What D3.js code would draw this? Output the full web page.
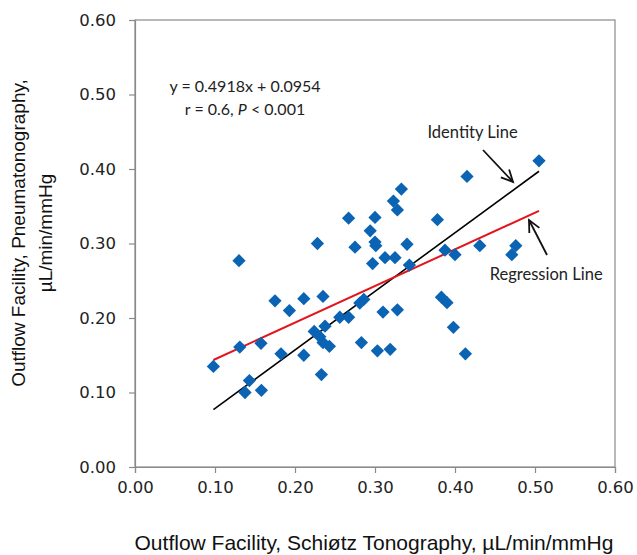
<!DOCTYPE html>
<html>
<head>
<meta charset="utf-8">
<script src="https://cdn.jsdelivr.net/npm/d3@7"></script>
<style>
  body { margin: 0; background: #fff; }
  .tick text { font-family: "DejaVu Sans", Verdana, sans-serif; font-size: 16.5px; fill: #222; }
  .note { font-family: Lato, "Open Sans", sans-serif; fill: #222; }
  .title { font-family: "Liberation Sans", Arial, sans-serif; font-size: 19px; fill: #111; }
</style>
</head>
<body>
<svg id="chart" width="637" height="555"></svg>
<script>
"use strict";

// Schiøtz tonography (x) vs pneumatonography (y), µL/min/mmHg
var schiotz = [0.098, 0.131, 0.130, 0.1375, 0.143, 0.158, 0.1575, 0.175, 0.1825, 0.193,
  0.211, 0.211, 0.224, 0.228, 0.231, 0.233, 0.235, 0.235, 0.2375, 0.243,
  0.256, 0.267, 0.267, 0.275, 0.281, 0.286, 0.283, 0.294, 0.297, 0.300,
  0.300, 0.301, 0.303, 0.310, 0.3125, 0.319, 0.323, 0.325, 0.328, 0.328,
  0.333, 0.340, 0.343, 0.378, 0.383, 0.3875, 0.390, 0.398, 0.400, 0.413,
  0.415, 0.431, 0.471, 0.476, 0.505];
var pneumato = [0.135, 0.161, 0.277, 0.100, 0.116, 0.103, 0.166, 0.223, 0.152, 0.210,
  0.226, 0.150, 0.182, 0.300, 0.175, 0.124, 0.229, 0.167, 0.189, 0.162,
  0.201, 0.201, 0.334, 0.295, 0.220, 0.225, 0.167, 0.317, 0.273, 0.335,
  0.302, 0.297, 0.156, 0.208, 0.281, 0.158, 0.357, 0.281, 0.345, 0.211,
  0.373, 0.299, 0.271, 0.332, 0.228, 0.291, 0.2205, 0.1875, 0.285, 0.152,
  0.390, 0.297, 0.285, 0.297, 0.411];

var xTicks = [0, 0.1, 0.2, 0.3, 0.4, 0.5, 0.6];
var yTicks = [0, 0.1, 0.2, 0.3, 0.4, 0.5, 0.6];

var slope = 0.4918;
var intercept = 0.0954;
var regressionX = [0.098, 0.505];
var identityLine = [[0.098, 0.077], [0.505, 0.397]];

var margin = { left: 135, top: 20, right: 22, bottom: 88 };
var width = 637 - margin.left - margin.right;
var height = 555 - margin.top - margin.bottom;

var svg = d3.select("#chart");
var g = svg.append("g")
  .attr("transform", "translate(" + margin.left + "," + margin.top + ")");

var x = d3.scaleLinear().domain([0, 0.6]).range([0, width]);
var y = d3.scaleLinear().domain([0, 0.6]).range([height, 0]);

// plot frame
g.append("rect")
  .attr("width", width).attr("height", height)
  .attr("fill", "none")
  .attr("stroke", "#8a8a8a")
  .attr("stroke-width", 1.2);

var xAxis = g.append("g")
  .attr("transform", "translate(0," + height + ")")
  .call(d3.axisBottom(x).tickValues(xTicks).tickFormat(d3.format(".2f")).tickSize(6).tickPadding(8));
var yAxis = g.append("g")
  .call(d3.axisLeft(y).tickValues(yTicks).tickFormat(d3.format(".2f")).tickSize(6).tickPadding(13));

[xAxis, yAxis].forEach(function(a) {
  a.select(".domain").attr("stroke", "#8a8a8a").attr("stroke-width", 1.2);
  a.selectAll(".tick line").attr("stroke", "#8a8a8a").attr("stroke-width", 1.2);
});

// identity line
g.append("line")
  .attr("x1", x(identityLine[0][0])).attr("y1", y(identityLine[0][1]))
  .attr("x2", x(identityLine[1][0])).attr("y2", y(identityLine[1][1]))
  .attr("stroke", "#000").attr("stroke-width", 1.6);

// regression line
g.append("line")
  .attr("x1", x(regressionX[0])).attr("y1", y(slope * regressionX[0] + intercept))
  .attr("x2", x(regressionX[1])).attr("y2", y(slope * regressionX[1] + intercept))
  .attr("stroke", "#e3141b").attr("stroke-width", 2);

// points
var diamond = d3.symbol().type(d3.symbolSquare).size(88);
g.selectAll(".pt")
  .data(schiotz)
  .enter()
  .append("path")
  .attr("class", "pt")
  .attr("d", diamond)
  .attr("fill", "#0b63b4")
  .attr("transform", function(d, i) {
    return "translate(" + x(d) + "," + y(pneumato[i]) + ") rotate(45)";
  });

// annotations
function arrow(from, to) {
  var x1 = x(from[0]), y1 = y(from[1]), x2 = x(to[0]), y2 = y(to[1]);
  var ang = Math.atan2(y2 - y1, x2 - x1);
  var len = 13, spread = 0.45;
  g.append("line")
    .attr("x1", x1).attr("y1", y1).attr("x2", x2).attr("y2", y2)
    .attr("stroke", "#111").attr("stroke-width", 1.8);
  var head = [
    [x2 - len * Math.cos(ang - spread), y2 - len * Math.sin(ang - spread)],
    [x2, y2],
    [x2 - len * Math.cos(ang + spread), y2 - len * Math.sin(ang + spread)]
  ];
  g.append("path")
    .attr("d", d3.line()(head))
    .attr("fill", "none")
    .attr("stroke", "#111").attr("stroke-width", 1.8);
}

arrow([0.435, 0.4255], [0.4725, 0.3826]);
arrow([0.515, 0.2846], [0.4925, 0.3315]);

g.append("text").attr("class", "note")
  .attr("x", x(0.422)).attr("y", y(0.4416))
  .attr("text-anchor", "middle")
  .style("font-size", "16.5px")
  .text("Identity Line");

g.append("text").attr("class", "note")
  .attr("x", x(0.514)).attr("y", y(0.251))
  .attr("text-anchor", "middle")
  .style("font-size", "16.5px")
  .text("Regression Line");

g.append("text").attr("class", "note")
  .attr("x", x(0.1375)).attr("y", y(0.503))
  .attr("text-anchor", "middle")
  .style("font-size", "16px")
  .text("y = 0.4918x + 0.0954");

var rLine = g.append("text").attr("class", "note")
  .attr("x", x(0.1375)).attr("y", y(0.4725))
  .attr("text-anchor", "middle")
  .style("font-size", "16px");
rLine.append("tspan").text("r = 0.6, ");
rLine.append("tspan").style("font-style", "italic").text("P");
rLine.append("tspan").text(" < 0.001");

// axis titles
svg.append("text").attr("class", "title")
  .attr("x", 374).attr("y", 550)
  .attr("text-anchor", "middle")
  .style("font-size", "21px")
  .text("Outflow Facility, Schiøtz Tonography, µL/min/mmHg");

var yt = svg.append("text").attr("class", "title")
  .attr("transform", "translate(0,233) rotate(-90)")
  .attr("text-anchor", "middle");
yt.append("tspan").attr("x", 0).attr("y", 25).text("Outflow Facility, Pneumatonography,");
yt.append("tspan").attr("x", 0).attr("y", 52).text("µL/min/mmHg");
</script>
</body>
</html>
